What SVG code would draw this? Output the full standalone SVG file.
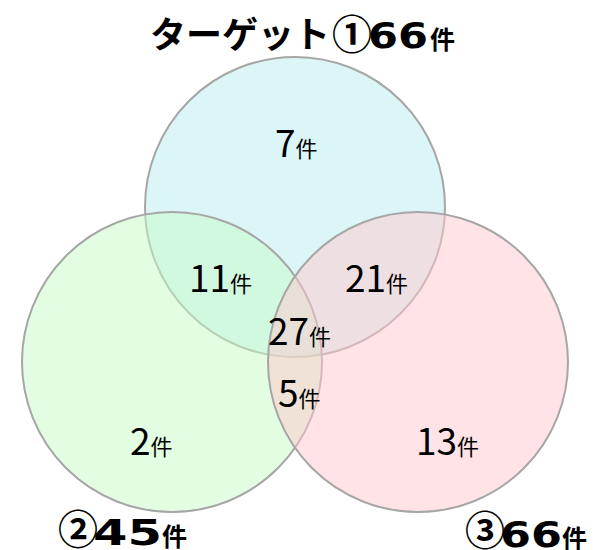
<svg xmlns="http://www.w3.org/2000/svg" width="596" height="550" viewBox="0 0 596 550">
<style>
.c{stroke:#a6a6a6;stroke-width:2;fill-opacity:0.5}
.n{font-family:"Noto Sans CJK JP","Noto Sans",sans-serif;font-size:37px;fill:#000}
.u{font-family:"Noto Sans CJK JP",sans-serif;font-size:22px;fill:#000}
.bj{font-family:"Noto Sans CJK JP",sans-serif;font-weight:bold;font-size:36px;fill:#000}
.bc{font-family:"Noto Sans CJK JP",sans-serif;font-weight:bold;font-size:40px;fill:#000}
.bd{font-family:"DejaVu Sans",Verdana,sans-serif;font-weight:bold;font-size:36px;fill:#000}
.bu{font-family:"Noto Sans CJK JP",sans-serif;font-weight:bold;font-size:25px;fill:#000}
</style>
<rect width="596" height="550" fill="#fff"/>
<g id="set1">
<circle class="c" cx="295" cy="207" r="150" fill="#b9edf1"/>
</g>
<g id="set2">
<circle class="c" cx="172" cy="362" r="150" fill="#c5fbc5"/>
</g>
<g id="set3">
<circle class="c" cx="418" cy="362" r="150" fill="#ffc7cd"/>
</g>
<g id="title1">
<text class="bj" x="150" y="48">ターゲット</text>
<text class="bc" x="332" y="49">①</text>
<text class="bd" x="368" y="48" textLength="60" lengthAdjust="spacingAndGlyphs">66</text>
<text class="bu" x="430" y="49">件</text>
</g>
<g id="title2">
<text class="bc" x="58" y="544">②</text>
<text class="bd" x="93" y="545" font-size="42" textLength="69" lengthAdjust="spacingAndGlyphs">45</text>
<text class="bu" x="162" y="546">件</text>
</g>
<g id="title3">
<text class="bc" x="465" y="545">③</text>
<text class="bd" x="500" y="547" font-size="40" textLength="62" lengthAdjust="spacingAndGlyphs">66</text>
<text class="bu" x="562" y="548">件</text>
</g>
<g id="r7"><text x="275" y="157"><tspan class="n">7</tspan><tspan class="u">件</tspan></text></g>
<g id="r11"><text x="189" y="292"><tspan class="n">11</tspan><tspan class="u">件</tspan></text></g>
<g id="r21"><text x="345" y="292"><tspan class="n">21</tspan><tspan class="u">件</tspan></text></g>
<g id="r27"><text x="268" y="345"><tspan class="n">27</tspan><tspan class="u">件</tspan></text></g>
<g id="r5"><text x="278" y="407"><tspan class="n">5</tspan><tspan class="u">件</tspan></text></g>
<g id="r2"><text x="130" y="455"><tspan class="n">2</tspan><tspan class="u">件</tspan></text></g>
<g id="r13"><text x="416" y="455"><tspan class="n">13</tspan><tspan class="u">件</tspan></text></g>
</svg>
